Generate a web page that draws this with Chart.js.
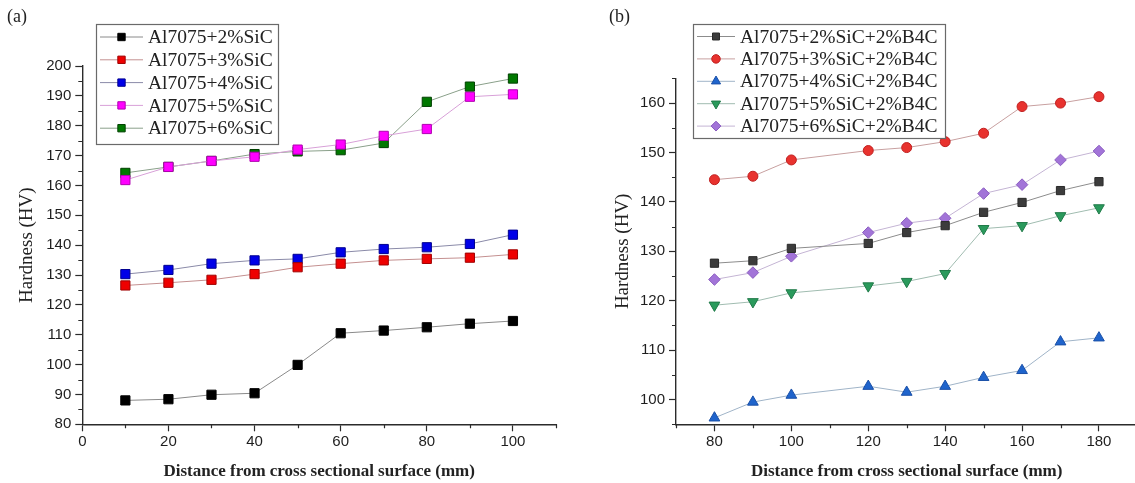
<!DOCTYPE html>
<html>
<head>
<meta charset="utf-8">
<script src="https://cdn.jsdelivr.net/npm/chart.js@4"></script>
<style>
  html, body { margin: 0; padding: 0; background: #fff; overflow: hidden; width: 1135px; height: 483px; }
  canvas { position: absolute; top: 0; }
  #ca { left: 0; }
  #cb { left: 565px; }
</style>
</head>
<body>
<canvas id="ca" width="565" height="483"></canvas>
<canvas id="cb" width="620" height="483"></canvas>
<script>
// ---------- DATA (a) ----------
const xA = [10, 20, 30, 40, 50, 60, 70, 80, 90, 100];
const labelsA = ['Al7075+2%SiC', 'Al7075+3%SiC', 'Al7075+4%SiC', 'Al7075+5%SiC', 'Al7075+6%SiC'];
const sic2 = [88.0, 88.4, 89.9, 90.4, 99.9, 110.5, 111.4, 112.5, 113.7, 114.6];
const sic3 = [126.5, 127.4, 128.4, 130.3, 132.6, 133.8, 134.9, 135.4, 135.8, 136.9];
const sic4 = [130.3, 131.7, 133.8, 134.9, 135.4, 137.6, 138.7, 139.3, 140.4, 143.5];
const sic5 = [161.8, 166.2, 168.2, 169.6, 172.0, 173.7, 176.6, 178.9, 189.7, 190.5];
const sic6 = [164.2, 166.2, 168.2, 170.5, 171.4, 171.8, 174.2, 188.0, 193.1, 195.8];
const xTicksA = [0, 20, 40, 60, 80, 100];
const xMinorA = [10, 30, 50, 70, 90, 110];
const yTicksA = [80, 90, 100, 110, 120, 130, 140, 150, 160, 170, 180, 190, 200];
const yMinorA = [85, 95, 105, 115, 125, 135, 145, 155, 165, 175, 185, 195];

// ---------- DATA (b) ----------
const xB = [80, 90, 100, 120, 130, 140, 150, 160, 170, 180];
const labelsB = ['Al7075+2%SiC+2%B4C', 'Al7075+3%SiC+2%B4C', 'Al7075+4%SiC+2%B4C', 'Al7075+5%SiC+2%B4C', 'Al7075+6%SiC+2%B4C'];
const b2 = [127.6, 128.1, 130.6, 131.6, 133.8, 135.2, 137.9, 139.9, 142.3, 144.1];
const b3 = [144.5, 145.2, 148.5, 150.4, 151.0, 152.2, 153.9, 159.3, 160.0, 161.3];
const b4 = [96.3, 99.5, 100.9, 102.7, 101.5, 102.7, 104.5, 105.9, 111.7, 112.5];
const b5 = [119.1, 119.8, 121.6, 123.0, 123.9, 125.5, 134.6, 135.2, 137.2, 138.8];
const b6 = [124.3, 125.7, 129.0, 133.8, 135.7, 136.7, 141.7, 143.5, 148.5, 150.3];
const xTicksB = [80, 100, 120, 140, 160, 180];
const xMinorB = [70, 90, 110, 130, 150, 170, 190];
const yTicksB = [100, 110, 120, 130, 140, 150, 160];
const yMinorB = [95, 105, 115, 125, 135, 145, 155, 165];

// ---------- helpers ----------
const SERIF = '"Liberation Serif", "Times New Roman", serif';
const SANS = '"Liberation Sans", Arial, sans-serif';
const AX = '#2b2b2b';

function pts(xs, ys) { return xs.map((x, i) => ({ x: x, y: ys[i] })); }

const boxLegend = {
  id: 'boxLegend',
  afterDraw(chart, args, o) {
    const ctx = chart.ctx;
    ctx.save();
    ctx.fillStyle = '#fff';
    ctx.fillRect(o.x, o.y, o.w, o.h);
    ctx.strokeStyle = '#6a6a6a';
    ctx.lineWidth = 1.2;
    ctx.strokeRect(o.x + 0.5, o.y + 0.5, o.w, o.h);
    chart.data.datasets.forEach((ds, i) => {
      const yy = o.y + o.firstRow + i * o.rowH;
      ctx.strokeStyle = ds.borderColor;
      ctx.lineWidth = 1;
      ctx.beginPath();
      ctx.moveTo(o.x1, yy);
      ctx.lineTo(o.x2, yy);
      ctx.stroke();
      ctx.fillStyle = ds.pointBackgroundColor;
      ctx.strokeStyle = ds.pointBorderColor;
      ctx.lineWidth = 1;
      Chart.helpers.drawPoint(ctx, {
        pointStyle: ds.pointStyle,
        rotation: ds.pointRotation || 0,
        radius: ds.pointRadius * o.markerScale,
        borderWidth: 1
      }, (o.x1 + o.x2) / 2, yy);
      ctx.fillStyle = '#222';
      ctx.font = o.font;
      ctx.textAlign = 'left';
      ctx.textBaseline = 'middle';
      ctx.fillText(ds.label, o.textX, yy + 1);
    });
    ctx.restore();
  }
};

const minorTicks = {
  id: 'minorTicks',
  afterDraw(chart, args, o) {
    const ctx = chart.ctx;
    const xs = chart.scales.x, ys = chart.scales.y;
    const ca = chart.chartArea;
    ctx.save();
    ctx.strokeStyle = AX;
    ctx.lineWidth = 1.2;
    ctx.beginPath();
    o.x.forEach(v => {
      const p = Math.round(xs.getPixelForValue(v)) + 0.5;
      ctx.moveTo(p, ca.bottom);
      ctx.lineTo(p, ca.bottom + o.len);
    });
    o.y.forEach(v => {
      const p = Math.round(ys.getPixelForValue(v)) + 0.5;
      ctx.moveTo(ca.left, p);
      ctx.lineTo(ca.left - o.len, p);
    });
    ctx.stroke();
    ctx.restore();
  }
};

const panelLabel = {
  id: 'panelLabel',
  afterDraw(chart, args, o) {
    const ctx = chart.ctx;
    ctx.save();
    ctx.fillStyle = '#222';
    ctx.font = '18px ' + SERIF;
    ctx.textAlign = 'left';
    ctx.textBaseline = 'middle';
    ctx.fillText(o.text, o.x, o.y);
    ctx.restore();
  }
};

function ds(label, xs, ys, style, fill, border, line, r, rot) {
  return {
    label: label,
    data: pts(xs, ys),
    borderColor: line,
    borderWidth: 1,
    pointStyle: style,
    pointRotation: rot || 0,
    pointRadius: r,
    pointHoverRadius: r,
    pointBackgroundColor: fill,
    pointBorderColor: border,
    pointBorderWidth: 1,
    tension: 0,
    fill: false
  };
}

function axes(cfg) {
  return {
    x: {
      type: 'linear',
      min: cfg.xmin, max: cfg.xmax,
      afterBuildTicks: s => { s.ticks = cfg.xt.map(v => ({ value: v })); },
      afterFit: s => { s.height = cfg.xh; },
      grid: { display: true, drawOnChartArea: false, drawTicks: true, tickLength: 7, tickColor: AX, tickWidth: 1.2 },
      border: { display: true, color: AX, width: 1.4 },
      ticks: { color: '#1e1e1e', font: { family: SANS, size: 15 }, padding: 2, maxRotation: 0, autoSkip: false },
      title: { display: true, text: 'Distance from cross sectional surface (mm)', color: '#222',
               font: { family: SERIF, size: 17, weight: 'bold' }, padding: { top: 0, bottom: 1 } }
    },
    y: {
      type: 'linear',
      min: cfg.ymin, max: cfg.ymax,
      afterBuildTicks: s => { s.ticks = cfg.yt.map(v => ({ value: v })); },
      afterFit: s => { s.width = cfg.yw; },
      grid: { display: true, drawOnChartArea: false, drawTicks: true, tickLength: 7, tickColor: AX, tickWidth: 1.2 },
      border: { display: true, color: AX, width: 1.4 },
      ticks: { color: '#1e1e1e', font: { family: SANS, size: 15 }, padding: 4, autoSkip: false },
      title: { display: true, text: 'Hardness (HV)', color: '#222',
               font: { family: SERIF, size: 19, weight: 'normal' }, padding: { top: cfg.ytp, bottom: 0 } }
    }
  };
}

const common = {
  responsive: false,
  animation: false,
  devicePixelRatio: 1,
  events: []
};

// ---------- Chart (a) ----------
new Chart(document.getElementById('ca'), {
  type: 'line',
  data: {
    datasets: [
      ds(labelsA[0], xA, sic2, 'rect', '#000000', '#000000', '#8a8a8a', 6.5),
      ds(labelsA[1], xA, sic3, 'rect', '#ee0000', '#a00000', '#c49090', 6.5),
      ds(labelsA[2], xA, sic4, 'rect', '#0000e8', '#000090', '#8a8aa8', 6.5),
      ds(labelsA[3], xA, sic5, 'rect', '#ff00ff', '#b000b0', '#d8a0d8', 6.5),
      ds(labelsA[4], xA, sic6, 'rect', '#007800', '#004000', '#8aa08a', 6.5)
    ]
  },
  options: Object.assign({}, common, {
    layout: { padding: { left: 0, right: 9, top: 66, bottom: 0 } },
    scales: axes({ xmin: 0, xmax: 110, xt: xTicksA, ymin: 80, ymax: 200, yt: yTicksA, xh: 58.7, yw: 82.3, ytp: 15.5 }),
    plugins: {
      legend: { display: false },
      tooltip: { enabled: false },
      boxLegend: { x: 96, y: 24, w: 182, h: 120, firstRow: 13, rowH: 22.8, x1: 100, x2: 143, textX: 148, markerScale: 0.8, font: '19.5px ' + SERIF },
      minorTicks: { x: xMinorA, y: yMinorA, len: 4 },
      panelLabel: { text: '(a)', x: 7, y: 17 }
    }
  }),
  plugins: [boxLegend, minorTicks, panelLabel]
});

// ---------- Chart (b) ----------
new Chart(document.getElementById('cb'), {
  type: 'line',
  data: {
    datasets: [
      ds(labelsB[0], xB, b2, 'rect', '#3c3c3c', '#2a2a2a', '#8c8c8c', 5.8),
      ds(labelsB[1], xB, b3, 'circle', '#e8322e', '#c02020', '#c8a0a0', 5),
      ds(labelsB[2], xB, b4, 'triangle', '#1f64cc', '#1a50a8', '#a0b4c8', 6.2),
      ds(labelsB[3], xB, b5, 'triangle', '#2a9a5c', '#1f7a48', '#a0bcb0', 6.2, 180),
      ds(labelsB[4], xB, b6, 'rectRot', '#a274d8', '#8a5cc0', '#c4b4d4', 5.8)
    ]
  },
  options: Object.assign({}, common, {
    layout: { padding: { left: 0, right: 47.6, top: 78.4, bottom: 0 } },
    scales: axes({ xmin: 70, xmax: 190, xt: xTicksB, ymin: 95, ymax: 165, yt: yTicksB, xh: 58.7, yw: 111, ytp: 46.6 }),
    plugins: {
      legend: { display: false },
      tooltip: { enabled: false },
      boxLegend: { x: 128, y: 24, w: 252, h: 114, firstRow: 12.5, rowH: 22.4, x1: 132, x2: 170, textX: 175, markerScale: 0.85, font: '19.5px ' + SERIF },
      minorTicks: { x: xMinorB, y: yMinorB, len: 4 },
      panelLabel: { text: '(b)', x: 44, y: 17 }
    }
  }),
  plugins: [boxLegend, minorTicks, panelLabel]
});
</script>
</body>
</html>
